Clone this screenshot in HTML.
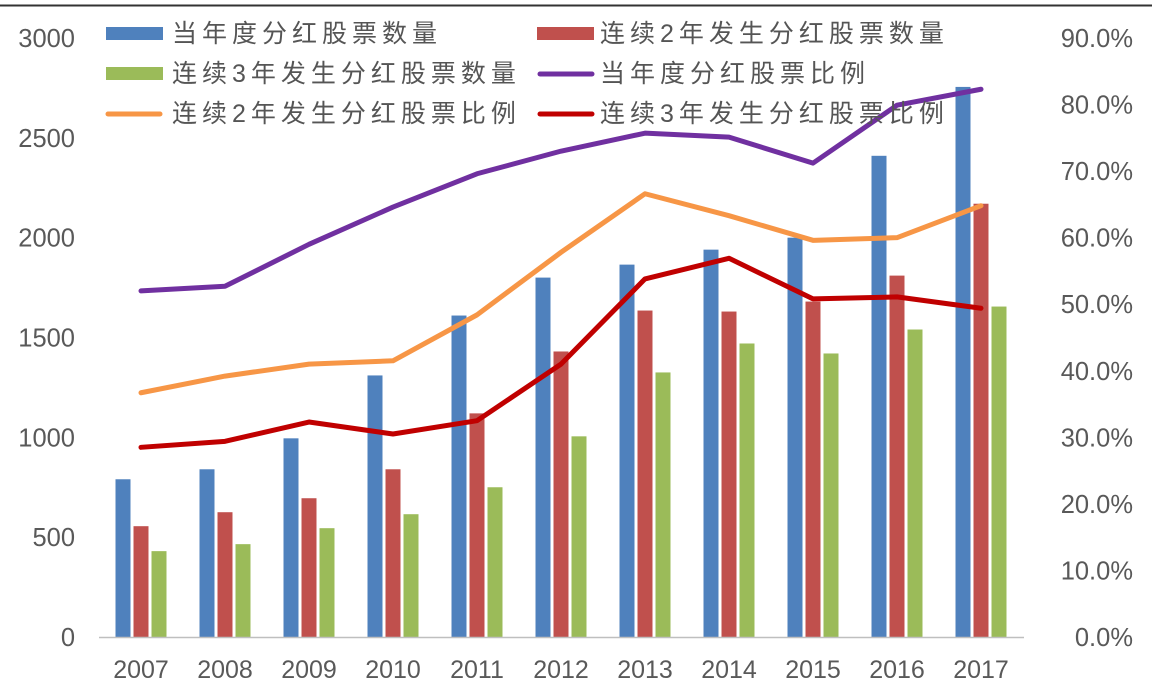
<!DOCTYPE html>
<html><head><meta charset="utf-8"><style>
body{margin:0;background:#fff;}
svg{display:block;font-family:"Liberation Sans","Noto Sans CJK SC",sans-serif;}
</style></head><body>
<svg id="chart" width="1152" height="693">
<line x1="0" y1="5.5" x2="1152" y2="5.5" stroke="#333" stroke-width="2"/>
<g id="bars"></g><g id="lines"></g><g id="axes"></g>
<g id="legend" font-size="25" fill="#555" letter-spacing="5">
<g><rect x="106" y="27" width="57" height="13" fill="#4f81bd"/><text x="172" y="42">当年度分红股票数量</text></g>
<g><rect x="537" y="27" width="57" height="13" fill="#c0504d"/><text x="600" y="42">连续2年发生分红股票数量</text></g>
<g><rect x="106" y="67" width="57" height="13" fill="#9bbb59"/><text x="172" y="82">连续3年发生分红股票数量</text></g>
<g><line x1="540" y1="74" x2="592" y2="74" stroke="#7030a0" stroke-width="5" stroke-linecap="round"/><text x="600" y="82">当年度分红股票比例</text></g>
<g><line x1="108" y1="114" x2="160" y2="114" stroke="#f79646" stroke-width="5" stroke-linecap="round"/><text x="172" y="122">连续2年发生分红股票比例</text></g>
<g><line x1="540" y1="114" x2="592" y2="114" stroke="#c00000" stroke-width="5" stroke-linecap="round"/><text x="600" y="122">连续3年发生分红股票比例</text></g>
</g>
</svg>
<script>
const years=["2007","2008","2009","2010","2011","2012","2013","2014","2015","2016","2017"];
const countAll=[790,840,995,1310,1610,1800,1865,1940,2000,2410,2755];
const count2=[555,625,695,840,1120,1430,1635,1630,1680,1810,2170];
const count3=[430,465,545,615,750,1005,1325,1470,1420,1540,1655];
const ratioAll=[52.0,52.7,59.0,64.6,69.6,73.0,75.7,75.1,71.2,79.9,82.3];
const ratio2=[36.7,39.2,41.0,41.5,48.4,57.8,66.6,63.3,59.6,60.0,64.8];
const ratio3=[28.5,29.4,32.3,30.5,32.5,41.0,53.8,56.9,50.8,51.1,49.4];
const leftTicks=[0,500,1000,1500,2000,2500,3000];
const rightTicks=[0,10,20,30,40,50,60,70,80,90];
const NS="http://www.w3.org/2000/svg";
const y0=637,yTop=38;
const yL=v=>y0-(y0-yTop)*v/3000;
const yR=v=>y0-(y0-yTop)*v/90;
const xC=i=>141+i*84;
function mk(t,a,p){const e=document.createElementNS(NS,t);for(const k in a)e.setAttribute(k,a[k]);document.getElementById(p).appendChild(e);return e;}
const series=[[countAll,"#4f81bd",-18,"bar-count"],[count2,"#c0504d",0,"bar-2yr"],[count3,"#9bbb59",18,"bar-3yr"]];
series.forEach(s=>{s[0].forEach((v,i)=>{
 const r=mk("rect",{x:xC(i)+s[2]-7.5,y:yL(v),width:15,height:y0-yL(v),fill:s[1]},"bars");
 
 
});});
[[ratio2,"#f79646","line-2yr-ratio"],[ratio3,"#c00000","line-3yr-ratio"],[ratioAll,"#7030a0","line-ratio"]].forEach(s=>{
 const p=mk("polyline",{points:s[0].map((v,i)=>xC(i)+","+yR(v)).join(" "),fill:"none",stroke:s[1],"stroke-width":5,"stroke-linejoin":"round","stroke-linecap":"round"},"lines");
 
 
});
const ax=mk("line",{x1:99,y1:y0+0.5,x2:1024,y2:y0+0.5,stroke:"#bfbfbf","stroke-width":1.5},"axes");


leftTicks.forEach(v=>{const t=mk("text",{x:75,y:yL(v)+9,"text-anchor":"end","font-size":25.5,fill:"#595959"},"axes");t.textContent=v;
 
 });
rightTicks.forEach(v=>{const t=mk("text",{x:1133,y:yR(v)+9,"text-anchor":"end","font-size":25.5,fill:"#595959"},"axes");t.textContent=v.toFixed(1)+"%";
 
 });
years.forEach((y,i)=>{const t=mk("text",{x:xC(i),y:678,"text-anchor":"middle","font-size":25,fill:"#595959"},"axes");t.textContent=y;
 
 });
</script>
</body></html>
